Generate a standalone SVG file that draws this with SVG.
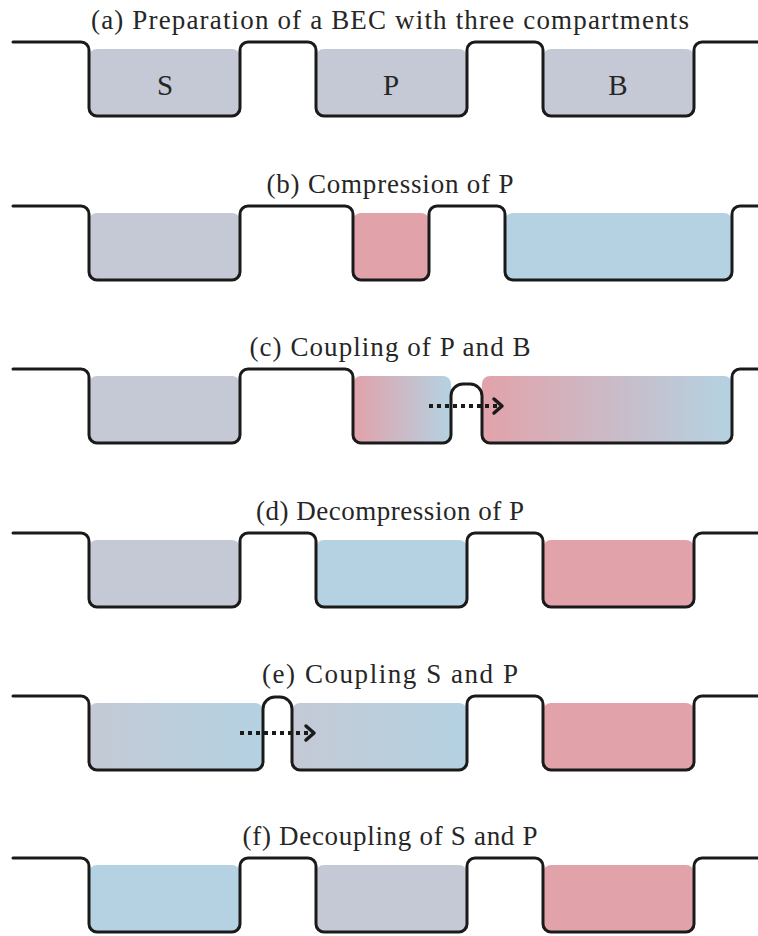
<svg xmlns="http://www.w3.org/2000/svg" width="758" height="936" viewBox="0 0 758 936">
<style>
.t{font-family:"Liberation Serif","Times New Roman",serif;font-size:27px;fill:#262626;text-anchor:middle}
.l{font-family:"Liberation Serif","Times New Roman",serif;font-size:29px;fill:#262626;text-anchor:middle}
.w{fill:none;stroke:#1a1a1a;stroke-width:3;stroke-linejoin:round;stroke-linecap:round}
.g{fill:#c4c9d5}.p{fill:#e2a2aa}.b{fill:#b4d2e2}
.dot{fill:none;stroke:#1a1a1a;stroke-width:4;stroke-dasharray:4 4}
.hd{fill:none;stroke:#1a1a1a;stroke-width:3.5;stroke-linecap:round;stroke-linejoin:round}
</style>
<defs>
<linearGradient id="pb" x1="0" x2="1" y1="0" y2="0"><stop offset="0" stop-color="#e2a2aa"/><stop offset="1" stop-color="#b4d2e2"/></linearGradient>
<linearGradient id="gb" x1="0" x2="1" y1="0" y2="0"><stop offset="0" stop-color="#c4c9d5"/><stop offset="1" stop-color="#b4d2e2"/></linearGradient>
</defs>

<g id="panel-a">
<text class="t" x="390" y="29" textLength="598" lengthAdjust="spacing">(a) Preparation of a BEC with three compartments</text>
<g id="a-S"><rect class="g" x="89" y="49" width="151" height="68" rx="8"/><text class="l" x="165" y="95">S</text></g>
<g id="a-P"><rect class="g" x="316" y="49" width="151" height="68" rx="8"/><text class="l" x="391" y="95">P</text></g>
<g id="a-B"><rect class="g" x="543" y="49" width="151" height="68" rx="8"/><text class="l" x="618" y="95">B</text></g>
<path class="w" d="M13 42 H81 A8 8 0 0 1 89 50 V108 A8 8 0 0 0 97 116 H232 A8 8 0 0 0 240 108 V50 A8 8 0 0 1 248 42 H308 A8 8 0 0 1 316 50 V108 A8 8 0 0 0 324 116 H459 A8 8 0 0 0 467 108 V50 A8 8 0 0 1 475 42 H535 A8 8 0 0 1 543 50 V108 A8 8 0 0 0 551 116 H686 A8 8 0 0 0 694 108 V50 A8 8 0 0 1 702 42 H758"/>
</g>

<g id="panel-b">
<text class="t" x="390" y="193" textLength="247" lengthAdjust="spacing">(b) Compression of P</text>
<g id="b-S"><rect class="g" x="89" y="213" width="151" height="67" rx="8"/></g>
<g id="b-P"><rect class="p" x="353" y="213" width="76" height="67" rx="8"/></g>
<g id="b-B"><rect class="b" x="505" y="213" width="227" height="67" rx="8"/></g>
<path class="w" d="M13 206 H81 A8 8 0 0 1 89 214 V272 A8 8 0 0 0 97 280 H232 A8 8 0 0 0 240 272 V214 A8 8 0 0 1 248 206 H345 A8 8 0 0 1 353 214 V272 A8 8 0 0 0 361 280 H421 A8 8 0 0 0 429 272 V214 A8 8 0 0 1 437 206 H497 A8 8 0 0 1 505 214 V272 A8 8 0 0 0 513 280 H724 A8 8 0 0 0 732 272 V214 A8 8 0 0 1 740 206 H758"/>
</g>

<g id="panel-c">
<text class="t" x="390" y="356" textLength="281" lengthAdjust="spacing">(c) Coupling of P and B</text>
<g id="c-S"><rect class="g" x="89" y="376" width="151" height="67" rx="8"/></g>
<g id="c-P"><rect fill="url(#pb)" x="353" y="376" width="98" height="67" rx="8"/></g>
<g id="c-B"><rect fill="url(#pb)" x="482" y="376" width="250" height="67" rx="8"/></g>
<path class="w" d="M13 369 H81 A8 8 0 0 1 89 377 V435 A8 8 0 0 0 97 443 H232 A8 8 0 0 0 240 435 V377 A8 8 0 0 1 248 369 H345 A8 8 0 0 1 353 377 V435 A8 8 0 0 0 361 443 H443 A8 8 0 0 0 451 435 V396 A12 12 0 0 1 463 384 H470 A12 12 0 0 1 482 396 V435 A8 8 0 0 0 490 443 H724 A8 8 0 0 0 732 435 V377 A8 8 0 0 1 740 369 H758"/>
</g>

<g id="panel-d">
<text class="t" x="390" y="520" textLength="268" lengthAdjust="spacing">(d) Decompression of P</text>
<g id="d-S"><rect class="g" x="89" y="540" width="151" height="67" rx="8"/></g>
<g id="d-P"><rect class="b" x="316" y="540" width="151" height="67" rx="8"/></g>
<g id="d-B"><rect class="p" x="543" y="540" width="151" height="67" rx="8"/></g>
<path class="w" d="M13 533 H81 A8 8 0 0 1 89 541 V599 A8 8 0 0 0 97 607 H232 A8 8 0 0 0 240 599 V541 A8 8 0 0 1 248 533 H308 A8 8 0 0 1 316 541 V599 A8 8 0 0 0 324 607 H459 A8 8 0 0 0 467 599 V541 A8 8 0 0 1 475 533 H535 A8 8 0 0 1 543 541 V599 A8 8 0 0 0 551 607 H686 A8 8 0 0 0 694 599 V541 A8 8 0 0 1 702 533 H758"/>
</g>

<g id="panel-e">
<text class="t" x="390" y="683" textLength="256" lengthAdjust="spacing">(e) Coupling S and P</text>
<g id="e-S"><rect fill="url(#gb)" x="89" y="703" width="174" height="67" rx="8"/></g>
<g id="e-P"><rect fill="url(#gb)" x="292" y="703" width="175" height="67" rx="8"/></g>
<g id="e-B"><rect class="p" x="543" y="703" width="151" height="67" rx="8"/></g>
<path class="w" d="M13 696 H81 A8 8 0 0 1 89 704 V762 A8 8 0 0 0 97 770 H255 A8 8 0 0 0 263 762 V709 A12 12 0 0 1 275 697 H280 A12 12 0 0 1 292 709 V762 A8 8 0 0 0 300 770 H459 A8 8 0 0 0 467 762 V704 A8 8 0 0 1 475 696 H535 A8 8 0 0 1 543 704 V762 A8 8 0 0 0 551 770 H686 A8 8 0 0 0 694 762 V704 A8 8 0 0 1 702 696 H758"/>
</g>

<g id="panel-f">
<text class="t" x="390" y="845" textLength="295" lengthAdjust="spacing">(f) Decoupling of S and P</text>
<g id="f-S"><rect class="b" x="89" y="865" width="151" height="67" rx="8"/></g>
<g id="f-P"><rect class="g" x="316" y="865" width="151" height="67" rx="8"/></g>
<g id="f-B"><rect class="p" x="543" y="865" width="151" height="67" rx="8"/></g>
<path class="w" d="M13 858 H81 A8 8 0 0 1 89 866 V924 A8 8 0 0 0 97 932 H232 A8 8 0 0 0 240 924 V866 A8 8 0 0 1 248 858 H308 A8 8 0 0 1 316 866 V924 A8 8 0 0 0 324 932 H459 A8 8 0 0 0 467 924 V866 A8 8 0 0 1 475 858 H535 A8 8 0 0 1 543 866 V924 A8 8 0 0 0 551 932 H686 A8 8 0 0 0 694 924 V866 A8 8 0 0 1 702 858 H758"/>
</g>

<g id="connectors">
<line class="dot" x1="429" y1="406" x2="497" y2="406"/>
<path class="hd" d="M494 399 L502 406 L494 413"/>
<line class="dot" x1="240" y1="733" x2="308" y2="733"/>
<path class="hd" d="M306 726 L314 733 L306 740"/>
</g>
</svg>
